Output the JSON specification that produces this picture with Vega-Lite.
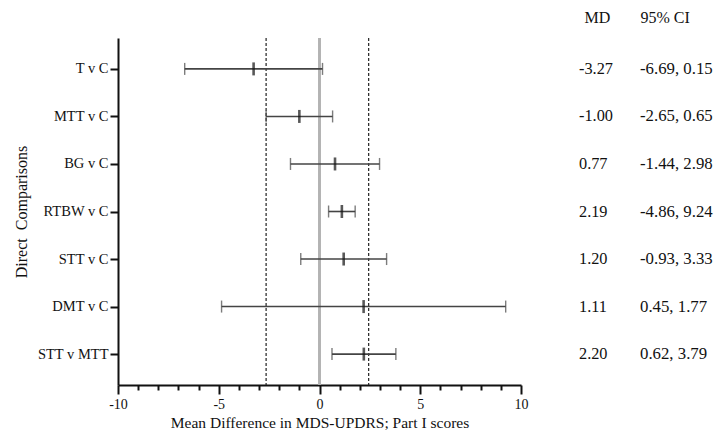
{
  "$schema": "https://vega.github.io/schema/vega-lite/v6.json",
  "autosize": {"type": "none"},
  "padding": {"left": 118, "top": 38, "right": 606, "bottom": 402},
  "background": "white",
  "config": {
    "font": "Liberation Serif",
    "view": {"stroke": null},
    "concat": {"spacing": 58}
  },
  "datasets": {
    "rows": [
      {"comparison": "T v C", "md": -3.27, "lo": -6.69, "hi": 0.15, "md_txt": "-3.27", "ci_txt": "-6.69, 0.15"},
      {"comparison": "MTT v C", "md": -1.0, "lo": -2.65, "hi": 0.65, "md_txt": "-1.00", "ci_txt": "-2.65, 0.65"},
      {"comparison": "BG v C", "md": 0.77, "lo": -1.44, "hi": 2.98, "md_txt": "0.77", "ci_txt": "-1.44, 2.98"},
      {"comparison": "RTBW v C", "md": 1.11, "lo": 0.45, "hi": 1.77, "md_txt": "2.19", "ci_txt": "-4.86, 9.24"},
      {"comparison": "STT v C", "md": 1.2, "lo": -0.93, "hi": 3.33, "md_txt": "1.20", "ci_txt": "-0.93, 3.33"},
      {"comparison": "DMT v C", "md": 2.19, "lo": -4.86, "hi": 9.24, "md_txt": "1.11", "ci_txt": "0.45, 1.77"},
      {"comparison": "STT v MTT", "md": 2.2, "lo": 0.62, "hi": 3.79, "md_txt": "2.20", "ci_txt": "0.62, 3.79"}
    ],
    "refs": [{"ref": -2.65}, {"ref": 2.44}]
  },
  "bounds": "flush",
  "hconcat": [
    {
      "width": 403,
      "height": 347,
      "data": {"name": "rows"},
      "resolve": {"axis": {"x": "independent"}},
      "encoding": {
        "y": {
          "field": "comparison",
          "type": "nominal",
          "sort": null,
          "scale": {"type": "point", "padding": 0.65},
          "axis": {
            "title": "Direct\u00a0 Comparisons",
            "titleFont": "Liberation Serif",
            "titleFontSize": 16,
            "titleFontWeight": "normal",
            "titleColor": "#111",
            "titlePadding": 8,
            "labelFont": "Liberation Serif",
            "labelFontSize": 14.5,
            "labelColor": "#111",
            "labelPadding": 2,
            "domainColor": "#111",
            "domainWidth": 2,
            "tickColor": "#111",
            "tickWidth": 2,
            "tickSize": 8
          }
        }
      },
      "layer": [
        {
          "mark": {"type": "rule", "color": "#b3b3b3", "strokeWidth": 2},
          "encoding": {
            "x": {
              "datum": 0,
              "type": "quantitative",
              "scale": {"domain": [-10, 10], "nice": false, "zero": false},
              "axis": {
                "orient": "bottom",
                "title": "Mean Difference in MDS-UPDRS; Part I scores",
                "titleFont": "Liberation Serif",
                "titleFontSize": 15.5,
                "titleFontWeight": "normal",
                "titleColor": "#111",
                "titlePadding": 4,
                "values": [-10, -5, 0, 5, 10],
                "labelExpr": "'' + datum.value",
                "labelFont": "Liberation Serif",
                "labelFontSize": 14,
                "labelColor": "#111",
                "labelPadding": 3,
                "labelFlush": false,
                "grid": false,
                "domainColor": "#111",
                "domainWidth": 2,
                "tickColor": "#111",
                "tickWidth": 2,
                "tickSize": 9
              }
            },
            "y": null
          }
        },
        {
          "data": {"name": "refs"},
          "mark": {"type": "rule", "color": "#222", "strokeWidth": 1.2, "strokeDash": [3, 2]},
          "encoding": {
            "x": {
              "field": "ref",
              "type": "quantitative",
              "axis": {
                "orient": "bottom",
                "title": null,
                "values": [-9, -8, -7, -6, -4, -3, -2, -1, 1, 2, 3, 4, 6, 7, 8, 9],
                "labels": false,
                "domain": false,
                "grid": false,
                "tickColor": "#111",
                "tickWidth": 2,
                "tickSize": 5
              }
            },
            "y": null
          }
        },
        {
          "mark": {"type": "rule", "color": "#444", "strokeWidth": 1.6},
          "encoding": {
            "x": {"field": "lo", "type": "quantitative", "axis": null},
            "x2": {"field": "hi"}
          }
        },
        {
          "mark": {"type": "tick", "orient": "vertical", "color": "#444", "thickness": 1.4, "size": 12},
          "encoding": {"x": {"field": "lo", "type": "quantitative", "axis": null}}
        },
        {
          "mark": {"type": "tick", "orient": "vertical", "color": "#444", "thickness": 1.4, "size": 12},
          "encoding": {"x": {"field": "hi", "type": "quantitative", "axis": null}}
        },
        {
          "mark": {"type": "tick", "orient": "vertical", "color": "#111", "thickness": 2.6, "size": 13},
          "encoding": {"x": {"field": "md", "type": "quantitative", "axis": null}}
        }
      ]
    },
    {
      "width": 61,
      "height": 347,
      "data": {"name": "rows"},
      "encoding": {
        "y": {
          "field": "comparison",
          "type": "nominal",
          "sort": null,
          "scale": {"type": "point", "padding": 0.65},
          "axis": null
        }
      },
      "layer": [
        {
          "mark": {"type": "text", "align": "left", "baseline": "middle", "font": "Liberation Serif", "fontSize": 16.3, "color": "#111"},
          "encoding": {
            "x": {
              "datum": "MD",
              "type": "nominal",
              "scale": {"type": "point", "domain": ["MD", "95% CI"], "padding": 0},
              "axis": {
                "orient": "top",
                "title": null,
                "domain": false,
                "ticks": false,
                "tickSize": 0,
                "labelAngle": 0,
                "labelAlign": "left",
                "labelBaseline": "middle",
                "labelFont": "Liberation Serif",
                "labelFontSize": 16,
                "labelColor": "#111",
                "labelPadding": 21,
                "labelOffset": {"condition": {"test": "datum.value === 'MD'", "value": 5}, "value": 0}
              }
            },
            "text": {"field": "md_txt"}
          }
        },
        {
          "mark": {"type": "text", "align": "left", "baseline": "middle", "font": "Liberation Serif", "fontSize": 16.8, "color": "#111"},
          "encoding": {
            "x": {"datum": "95% CI", "type": "nominal"},
            "text": {"field": "ci_txt"}
          }
        }
      ]
    }
  ]
}
